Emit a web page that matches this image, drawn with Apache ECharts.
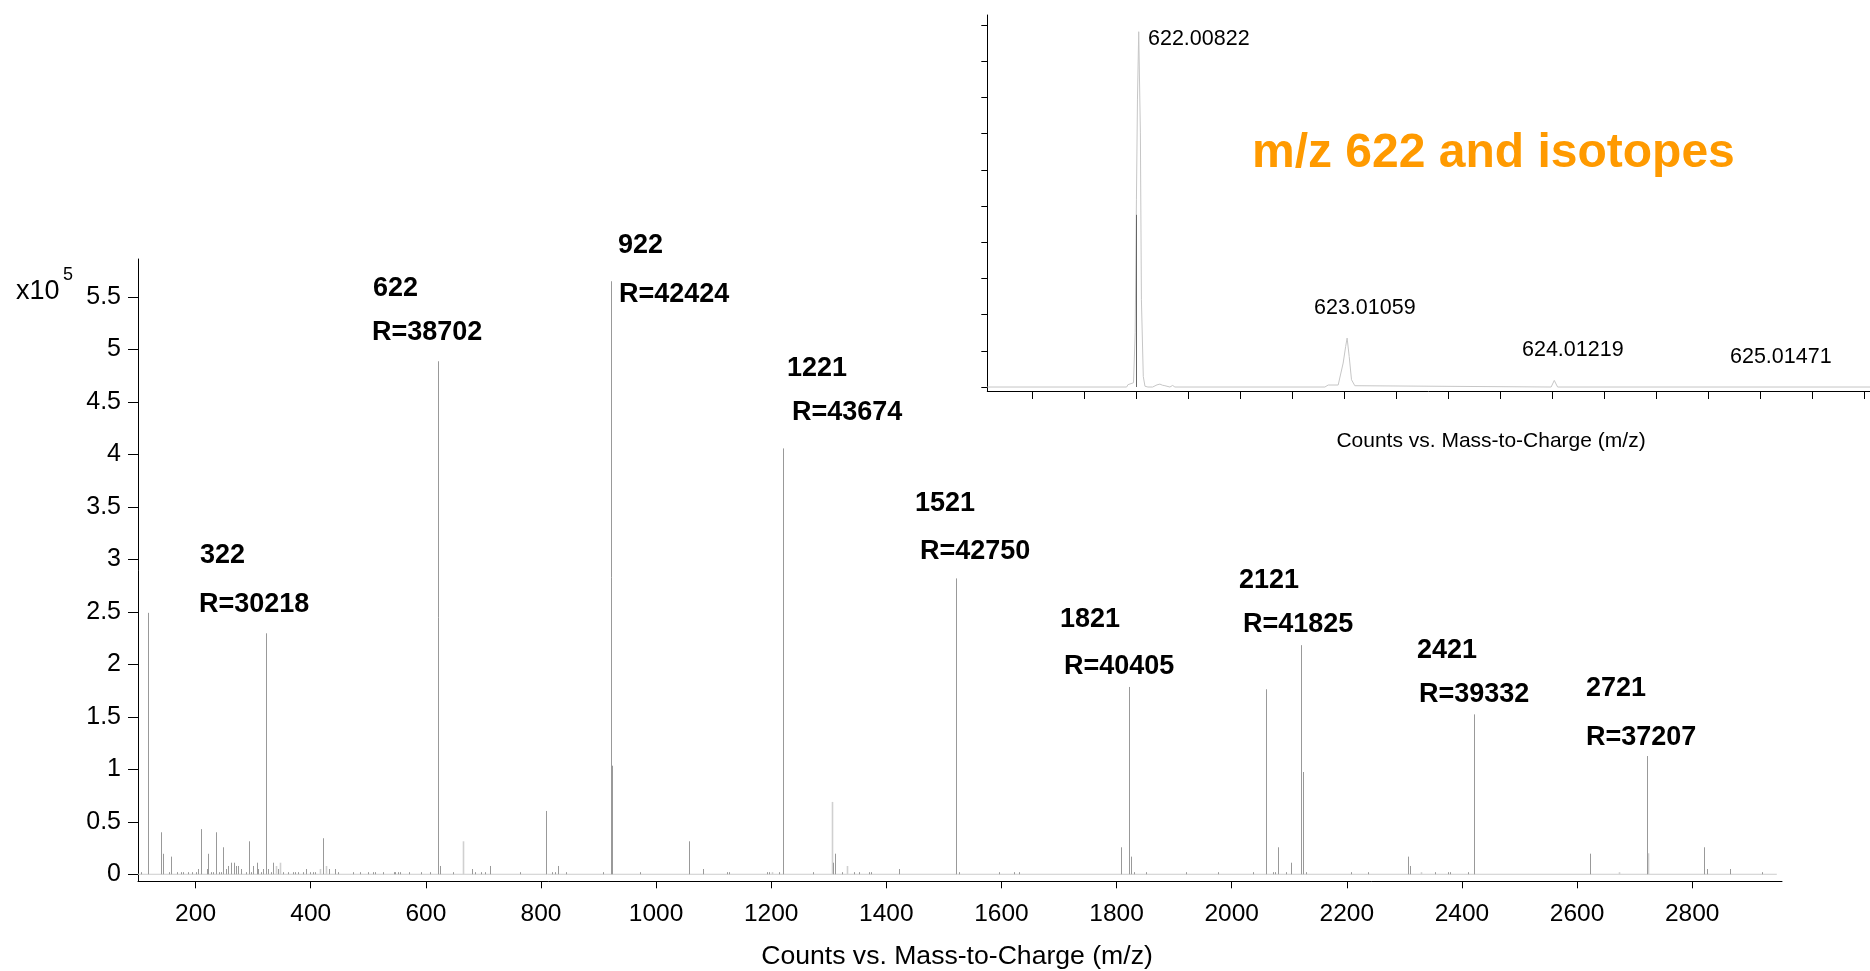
<!DOCTYPE html>
<html><head><meta charset="utf-8">
<script src="https://cdn.jsdelivr.net/npm/echarts@6/dist/echarts.min.js"></script>
<style>html,body{margin:0;padding:0;background:#fff}#c{width:1870px;height:971px}</style>
</head><body><div id="c"></div>
<script>
// ---------- main spectrum data (m/z, counts) ----------
const stickMz = [105,118,140,144,153,158,167,175,179,187,193,201,205,210,219,222,227,231,236,240,245,248,253,257,262,266,271,274,279,288,292,297,300,306,309,314,318,322,326,331,335,344,352,361,370,373,378,387,391,399,404,408,422,431,443,448,474,486,500,509,512,526,544,547,552,556,570,591,608,622,625,648,681,686,695,703,712,764,808,820,825,829,843,907,922,924,972,1058,1081,1124,1127,1193,1197,1214,1221,1272,1307,1310,1323,1344,1353,1370,1374,1422,1521,1527,1596,1622,1631,1808,1821,1825,1831,1851,1921,1976,2037,2060,2072,2075,2080,2094,2103,2121,2124,2129,2207,2236,2306,2310,2353,2376,2379,2411,2421,2623,2721,2820,2826,2866,2921];
const stickCounts = [2000,249000,40000,19500,2000,16800,2000,2000,2000,2000,2000,2000,5000,43000,5000,19500,2000,2000,40000,2000,2000,25700,5000,7900,11000,11000,7900,7900,5000,2000,31400,2000,7900,11000,5000,2000,5000,229500,5000,2000,11000,5000,2000,2000,2000,2000,2000,2000,5000,2000,2000,2000,34300,5000,5000,2000,2000,2000,2000,2000,2000,2000,2000,2000,2000,2000,2000,2000,2000,488600,7900,2000,5000,2000,2000,2000,7900,2000,60300,2000,2000,7900,2000,2000,564800,103400,2000,31400,5000,2000,2000,2000,2000,2000,405600,2000,11000,19600,2000,2000,2000,2000,2000,5000,281800,2000,2000,2000,2000,25700,178400,16800,2000,2000,2000,2000,2000,176200,2000,2000,25700,2000,11000,218200,97400,2000,2000,2000,16800,7900,2000,2000,2000,2000,152300,19600,112600,25700,5000,5000,2000];
const lightMz = [339,347,417,427,665,1202,1305,1332,2329,2672,2724];
const lightCounts = [7900,11000,5000,7900,31400,2000,68900,7900,2000,2000,20000];
const baselineRange = [100, 2947];
const xTicks = [200,400,600,800,1000,1200,1400,1600,1800,2000,2200,2400,2600,2800];
const yTicks = [0,50000,100000,150000,200000,250000,300000,350000,400000,450000,500000,550000];
const peakLabels = ['322','622','922','1221','1521','1821','2121','2421','2721'];
const resLabels = ['R=30218','R=38702','R=42424','R=43674','R=42750','R=40405','R=41825','R=39332','R=37207'];

// ---------- inset (m/z 622 and isotopes) ----------
const insetProfileMz = [621.284,621.954,621.960,621.987,621.995,622.001,622.006,622.012,622.020,622.025,622.034,622.042,622.056,622.079,622.100,622.114,622.126,622.138,622.162,622.175,622.186,622.907,622.923,622.971,622.976,622.995,623.007,623.014,623.024,623.035,623.051,623.060,623.995,624.010,624.026,625.528];
const insetProfileCounts = [0,0,3200,5900,74900,258500,396500,490700,351000,120500,14600,1100,0,0,3000,4000,2500,1800,0,2200,0,0,2760,2760,800,33100,56000,67600,42200,10100,1800,0,0,9100,0,0];
const insetStickMz = [622.001];
const insetStickCounts = [237800];
const insetPeakLabels = ['622.00822','623.01059','624.01219','625.01471'];
const insetXTicks = [621.5,621.75,622,622.25,622.5,622.75,623,623.25,623.5,623.75,624,624.25,624.5,624.75,625,625.25,625.5];
const insetYTicks = [0,50000,100000,150000,200000,250000,300000,350000,400000,450000,500000];
const insetTitle = 'm/z 622 and isotopes';
const axisTitle = 'Counts vs. Mass-to-Charge (m/z)';

// ---------- layout (pixels) ----------
const FONT = '"Liberation Sans", Arial, Helvetica, sans-serif';
const annPos = [[200,555.5,199,604.5],[373,288.5,372,332.5],[618,245.5,619,294.5],[787,368.5,792,412.5],[915,503.5,920,551.5],[1060,619.5,1064,666.5],[1239,580.5,1243,624.5],[1417,650.5,1419,694.5],[1586,688.5,1586,737.5]];
const insetLabelPos = [[1148,39],[1314,308],[1522,350],[1730,357]];

function stickRender(color, width) {
  return function (params, api) {
    const x = api.value(0), y = api.value(1);
    const p0 = api.coord([x, 0]), p1 = api.coord([x, y]);
    const px = Math.round(p0[0]) + 0.5;
    return {type: 'line', shape: {x1: px, y1: p0[1], x2: px, y2: p1[1]},
            style: {stroke: color, lineWidth: width}};
  };
}

const chart = echarts.init(document.getElementById('c'), null, {renderer: 'canvas'});
const black = {color: '#000', width: 1};

function txt(text, x, y, font, fill, align) {
  return {type: 'text', style: {text: text, x: x, y: y, font: font, fill: fill || '#000',
          textAlign: align || 'left', textVerticalAlign: 'middle', align: align || 'left', verticalAlign: 'middle'}};
}
const graphics = [];
peakLabels.forEach((t, i) => {
  const p = annPos[i];
  graphics.push(txt(t, p[0], p[1], 'bold 27px ' + FONT));
  graphics.push(txt(resLabels[i], p[2], p[3], 'bold 27px ' + FONT));
});
insetPeakLabels.forEach((t, i) => {
  const p = insetLabelPos[i];
  graphics.push(txt(t, p[0], p[1], '21.5px ' + FONT));
});
graphics.push(txt(insetTitle, 1252, 154, 'bold 48px ' + FONT, '#FF9A00'));
graphics.push(txt(axisTitle, 1491, 441, '21px ' + FONT, '#000', 'center'));
graphics.push(txt(axisTitle, 957, 957, '26.6px ' + FONT, '#000', 'center'));
graphics.push(txt('x10', 16, 292, '27px ' + FONT));
graphics.push(txt('5', 63, 275, '18px ' + FONT));

const option = {
  animation: false,
  backgroundColor: '#fff',
  grid: [
    {left: 138, right: 88, top: 259, bottom: 89.7, containLabel: false, outerBoundsMode: 'none'},
    {left: 987.3, right: 0, top: 15, bottom: 580, containLabel: false, outerBoundsMode: 'none'}
  ],
  xAxis: [
    {type: 'value', gridIndex: 0, min: 100, max: 2956,
     axisLine: {show: true, onZero: false, lineStyle: black},
     axisTick: {show: true, customValues: xTicks, length: 7, lineStyle: black},
     axisLabel: {show: true, customValues: xTicks, fontSize: 24.5, color: '#000', fontFamily: FONT, margin: 20,
                 formatter: v => String(v)},
     splitLine: {show: false}},
    {type: 'value', gridIndex: 1, min: 621.284, max: 625.528,
     axisLine: {show: true, onZero: false, lineStyle: black},
     axisTick: {show: true, customValues: insetXTicks, length: 8, lineStyle: black},
     axisLabel: {show: false},
     splitLine: {show: false}}
  ],
  yAxis: [
    {type: 'value', gridIndex: 0, min: -6700, max: 586000,
     axisLine: {show: true, onZero: false, lineStyle: black},
     axisTick: {show: true, customValues: yTicks, length: 10, lineStyle: black},
     axisLabel: {show: true, customValues: yTicks, fontSize: 25, color: '#000', fontFamily: FONT, margin: 17,
                 formatter: v => String(Math.round(v / 1e4) / 10)},
     splitLine: {show: false}},
    {type: 'value', gridIndex: 1, min: -5500, max: 513800,
     axisLine: {show: true, onZero: false, lineStyle: black},
     axisTick: {show: true, customValues: insetYTicks, length: 6, lineStyle: black},
     axisLabel: {show: false},
     splitLine: {show: false}}
  ],
  graphic: graphics,
  series: [
    {type: 'line', xAxisIndex: 0, yAxisIndex: 0, silent: true, symbol: 'none', z: 1,
     data: [[baselineRange[0], 0], [baselineRange[1], 0]],
     lineStyle: {color: '#cccccc', width: 1}},
    {type: 'custom', xAxisIndex: 0, yAxisIndex: 0, silent: true, z: 2,
     renderItem: stickRender('#d0d0d0', 1.6),
     data: lightMz.map((m, i) => [m, lightCounts[i]])},
    {type: 'custom', xAxisIndex: 0, yAxisIndex: 0, silent: true, z: 3,
     renderItem: stickRender('#999999', 1),
     data: stickMz.map((m, i) => [m, stickCounts[i]])},
    {type: 'line', xAxisIndex: 1, yAxisIndex: 1, silent: true, symbol: 'none', z: 2,
     data: insetProfileMz.map((m, i) => [m, insetProfileCounts[i]]),
     lineStyle: {color: '#c6c6c6', width: 1}},
    {type: 'custom', xAxisIndex: 1, yAxisIndex: 1, silent: true, z: 3,
     renderItem: stickRender('#666666', 1),
     data: insetStickMz.map((m, i) => [m, insetStickCounts[i]])}
  ]
};
chart.setOption(option);
</script>
</body></html>
